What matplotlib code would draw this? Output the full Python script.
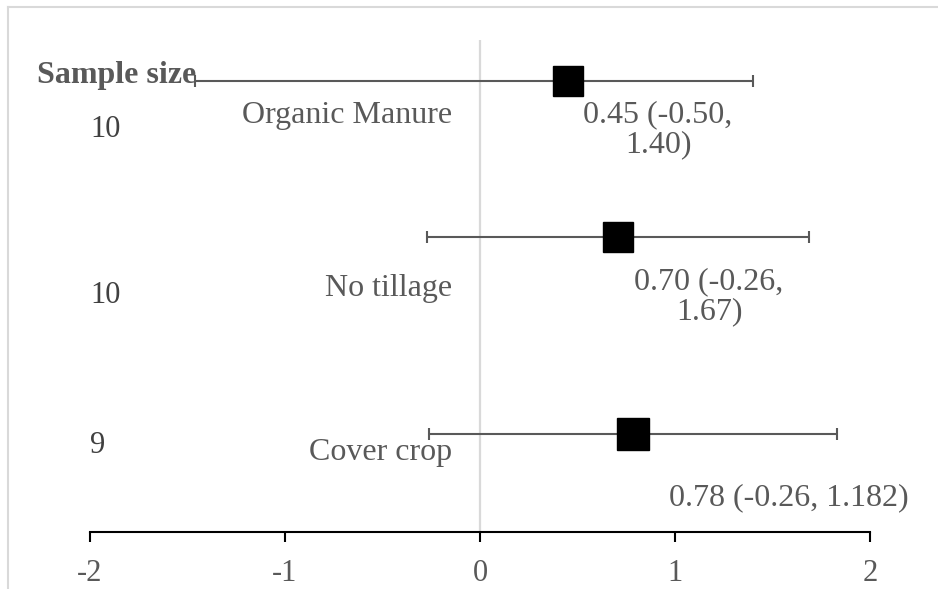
import matplotlib
matplotlib.use("Agg")
import matplotlib.pyplot as plt
from matplotlib.lines import Line2D

# forest plot data
labels = ["Organic Manure", "No tillage", "Cover crop"]
sample_size = ["10", "10", "9"]
effect = [0.45, 0.71, 0.785]
lower = [-1.46, -0.27, -0.26]
upper = [1.40, 1.685, 1.83]
value_text = ["0.45 (-0.50,\n1.40)", "0.70 (-0.26,\n1.67)", "0.78 (-0.26, 1.182)"]
xticks = [-2, -1, 0, 1, 2]

W, H = 938, 589
plt.rcParams['font.family'] = ['Liberation Serif', 'DejaVu Serif']
grey = "#595959"

fig = plt.figure(figsize=(W / 100, H / 100), dpi=100)
ax = fig.add_axes([90 / W, 1 - 532 / H, 780 / W, 492 / H])

ypos = [4.58, 3.0, 1.0]
msize = [21.5, 21, 23.5]

ax.axvline(0, color="#d9d9d9", lw=1.6, zorder=0)
for i in range(len(labels)):
    ax.errorbar(effect[i], ypos[i],
                xerr=[[effect[i] - lower[i]], [upper[i] - effect[i]]],
                fmt="none", ecolor=grey, elinewidth=1.5, capsize=4.3, capthick=1.5, zorder=2)
    ax.plot(effect[i], ypos[i], marker="s", ms=msize[i], color="black", zorder=3)

ax.set_xlim(-2, 2)
ax.set_ylim(0, 5)
for s in ["top", "right", "left"]:
    ax.spines[s].set_visible(False)
ax.spines["bottom"].set_linewidth(1.5)
ax.set_yticks([])
ax.set_xticks(xticks)
ax.set_xticklabels([str(t) for t in xticks])
ax.tick_params(axis="x", direction="out", length=7.5, width=1.5, pad=12,
               labelsize=22, labelcolor=grey)


def ftext(x, y, s, **kw):
    # place text by pixel position of the baseline
    fig.text(x / W, 1 - y / H, s, va="baseline", **kw)


ftext(37, 83, "Sample size", fontsize=23, fontweight="bold", color=grey)
size_y = [137, 303, 453]
label_y = [123, 296, 460]
for i in range(len(labels)):
    ftext(90, size_y[i], sample_size[i], fontsize=22, color="#404040")
    ftext(452, label_y[i], labels[i], fontsize=23, color=grey, ha="right")

ftext(658, 152, value_text[0], fontsize=23, color=grey, ha="center", linespacing=1.05)
ftext(709, 319, value_text[1], fontsize=23, color=grey, ha="center", linespacing=1.05)
ftext(789, 505, value_text[2], fontsize=23, color=grey, ha="center")

# light chart border
fig.add_artist(Line2D([8 / W, 8 / W], [0, 1 - 7 / H], color="#d9d9d9", lw=1.5))
fig.add_artist(Line2D([8 / W, 1], [1 - 7 / H, 1 - 7 / H], color="#d9d9d9", lw=1.5))

fig.savefig("out.png", dpi=100)
